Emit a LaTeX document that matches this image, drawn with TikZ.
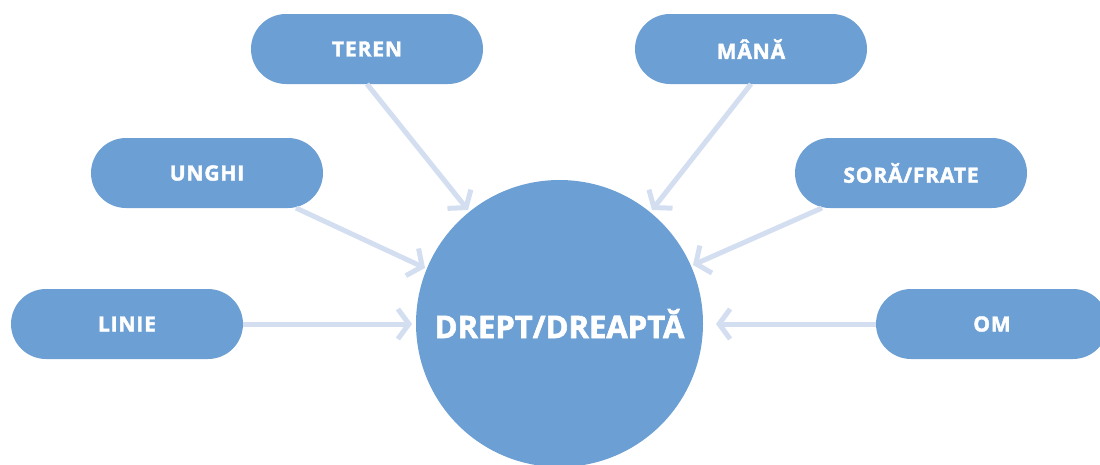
\documentclass[tikz,border=0pt]{standalone}
\usepackage{fontspec}
\setmainfont{Open Sans}[BoldFeatures={FakeBold=2}]
\newfontfamily\heavy{Open Sans}[BoldFeatures={FakeBold=2},LetterSpace=4]
\usetikzlibrary{arrows.meta}
\definecolor{fillblue}{HTML}{6C9FD3}
\definecolor{arrowblue}{HTML}{D3DEF0}
\begin{document}
\begin{tikzpicture}[x=1pt,y=-1pt,
  pill/.style={draw=none, fill=fillblue, rounded corners=35pt, minimum width=232pt, minimum height=70pt, text=white, font=\heavy\fontsize{21}{23}\selectfont\bfseries, inner sep=0pt},
  hub/.style={circle, fill=fillblue, minimum size=287pt, text=white, font=\fontsize{31}{34}\selectfont\bfseries, inner sep=0pt},
  link/.style={draw=arrowblue, line width=5pt, -{Straight Barb[length=11pt, width=30pt, line width=5pt]}}
]
\useasboundingbox (0,0) rectangle (1100,464);
\node[hub] (c) at (559.5,323.5) {DREPT/DREAPTĂ};
\node[pill] (teren) at (367,49) {TEREN};
\node[pill] (mana) at (751,49) {MÂNĂ};
\node[pill] (unghi) at (207,173) {UNGHI};
\node[pill] (sora) at (911,173) {SORĂ/FRATE};
\node[pill] (linie) at (127,324) {LINIE};
\node[pill] (om) at (992,324) {OM};
\coordinate (t1) at (468,210);
\coordinate (m1) at (652,210);
\coordinate (u1) at (425,268);
\coordinate (s1) at (693,265);
\coordinate (l1) at (412,324);
\coordinate (o1) at (716,324);
\draw[link] (teren) ++(0,35) -- (t1);
\draw[link] (mana) ++(0,35) -- (m1);
\draw[link] (unghi) ++(89,35) -- (u1);
\draw[link] (sora) ++(-89,35) -- (s1);
\draw[link] (linie.east) -- (l1);
\draw[link] (om.west) -- (o1);
\end{tikzpicture}
\end{document}
